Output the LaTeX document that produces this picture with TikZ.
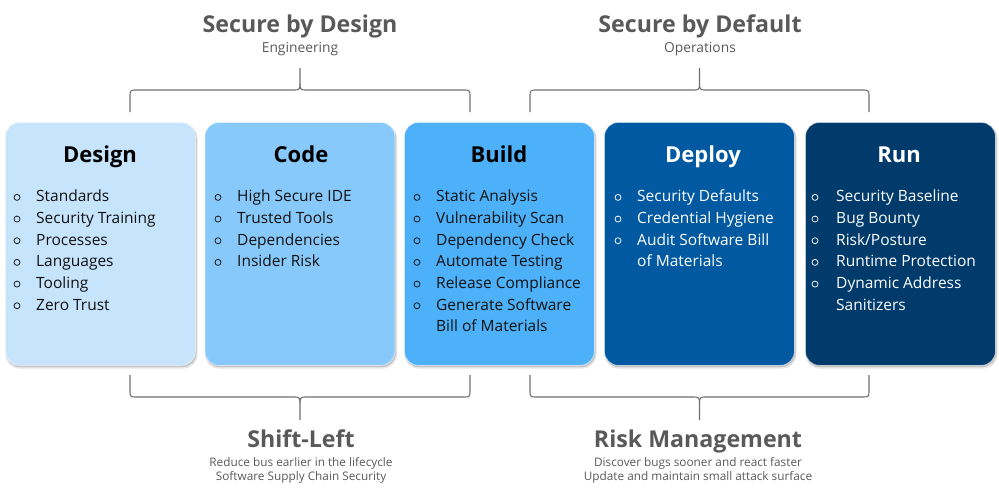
\documentclass[tikz,border=0pt]{standalone}
\usepackage{fontspec}
\setmainfont{Open Sans}
\definecolor{headgrey}{HTML}{595959}
\definecolor{bracegrey}{HTML}{6E6E6E}
\definecolor{cdesign}{HTML}{C6E4FC}
\definecolor{ccode}{HTML}{88C9FB}
\definecolor{cbuild}{HTML}{4DB1FA}
\definecolor{cdeploy}{HTML}{0059A1}
\definecolor{crun}{HTML}{003B6C}
\definecolor{darktext}{HTML}{111111}
\begin{document}
\begin{tikzpicture}[x=1pt,y=-1pt,
  boxst/.style={rounded corners=14pt, draw=white, draw opacity=0.55, line width=0.8pt,
    minimum width=190pt, minimum height=243pt, anchor=north west, inner sep=0pt},
  shadowst/.style={rounded corners=14pt, fill=black},
  ttl/.style={font=\fontsize{22}{26}\selectfont\bfseries, anchor=base, inner sep=0pt},
  itm/.style={font=\fontsize{15.5}{19}\selectfont, anchor=base west, inner sep=0pt},
  bul/.style={circle, draw, minimum size=6pt, inner sep=0pt, line width=0.75pt},
  head/.style={font=\fontsize{23.2}{27}\selectfont\bfseries, text=headgrey, anchor=base, inner sep=0pt},
  sub/.style={font=\fontsize{11.8}{14}\selectfont, text=headgrey, anchor=base, inner sep=0pt},
  topsub/.style={font=\fontsize{13.8}{16}\selectfont, text=headgrey, anchor=base, inner sep=0pt},
  brace/.style={draw=bracegrey, line width=1.1pt, line join=round},
]
\useasboundingbox (0,0) rectangle (999,491);

% shadows
\foreach \x in {5,204.5,404,604,805}{
  \fill[shadowst, fill opacity=0.10] (\x+0.5,124) rectangle (\x+192.5,368.5);
  \fill[shadowst, fill opacity=0.15] (\x+1,123.5) rectangle (\x+191.5,367);
}

% boxes
\node[boxst, fill=cdesign] (design) at (5,122) {};
\node[boxst, fill=ccode] (code) at (204.5,122) {};
\node[boxst, fill=cbuild] (build) at (404,122) {};
\node[boxst, fill=cdeploy] (deploy) at (604,122) {};
\node[boxst, fill=crun] (run) at (805,122) {};

% titles
\node[ttl, text=black] (tdesign) at (100,162) {Design};
\node[ttl, text=black] (tcode) at (301,162) {Code};
\node[ttl, text=black] (tbuild) at (499,162) {Build};
\node[ttl, text=white] (tdeploy) at (703,162) {Deploy};
\node[ttl, text=white] (trun) at (899,162) {Run};

% items
\foreach [count=\i] \t in {Standards,Security Training,Processes,Languages,Tooling,Zero Trust}{
  \node[bul, draw=darktext] (db\i) at (17,180+21.67*\i-4.3) {};
  \node[itm, text=darktext] (di\i) at (36,180+21.67*\i) {\t};
}
\foreach [count=\i] \t in {High Secure IDE,Trusted Tools,Dependencies,Insider Risk}{
  \node[bul, draw=darktext] (cb\i) at (218,180+21.67*\i-4.3) {};
  \node[itm, text=darktext] (ci\i) at (237,180+21.67*\i) {\t};
}
\foreach [count=\i] \t in {Static Analysis,Vulnerability Scan,Dependency Check,Automate Testing,Release Compliance,Generate Software}{
  \node[bul, draw=darktext] (bb\i) at (417,180+21.67*\i-4.3) {};
  \node[itm, text=darktext] (bi\i) at (436,180+21.67*\i) {\t};
}
\node[itm, text=darktext] (bi7) at (436,180+21.67*7) {Bill of Materials};
\foreach [count=\i] \t in {Security Defaults,Credential Hygiene,Audit Software Bill}{
  \node[bul, draw=white] (pb\i) at (618,180+21.67*\i-4.3) {};
  \node[itm, text=white] (pi\i) at (637,180+21.67*\i) {\t};
}
\node[itm, text=white] (pi4) at (637,180+21.67*4) {of Materials};
\foreach [count=\i] \t in {Security Baseline,Bug Bounty,Risk/Posture,Runtime Protection,Dynamic Address}{
  \node[bul, draw=white] (rb\i) at (815,180+21.67*\i-4.3) {};
  \node[itm, text=white] (ri\i) at (836,180+21.67*\i) {\t};
}
\node[itm, text=white] (ri6) at (836,180+21.67*6) {Sanitizers};

% top headings
\node[head] (sbd) at (300,32) {Secure by Design};
\node[topsub] (eng) at (300,52) {Engineering};
\node[head] (sbdef) at (700,32) {Secure by Default};
\node[topsub] (ops) at (700,52) {Operations};

% bottom headings
\node[head] (shl) at (301,447) {Shift-Left};
\node[sub] (shl1) at (301,466) {Reduce bus earlier in the lifecycle};
\node[sub] (shl2) at (301,480.5) {Software Supply Chain Security};
\node[head] (rm) at (698,447) {Risk Management};
\node[sub] (rm1) at (698,466) {Discover bugs sooner and react faster};
\node[sub] (rm2) at (698,480.5) {Update and maintain small attack surface};

% top braces
\foreach \a/\b in {130/470,530/869}{
  \pgfmathsetmacro\m{(\a+\b)/2}
  \draw[brace] (\a,112) -- (\a,95) .. controls (\a,91) and (\a+1,90) .. (\a+5,90)
    -- (\m-5,90) .. controls (\m-1,90) and (\m,89) .. (\m,84) -- (\m,68);
  \draw[brace] (\b,112) -- (\b,95) .. controls (\b,91) and (\b-1,90) .. (\b-5,90)
    -- (\m+5,90) .. controls (\m+1,90) and (\m,89) .. (\m,84);
}
% bottom braces
\foreach \a/\b in {130/470,530/869}{
  \pgfmathsetmacro\m{(\a+\b)/2}
  \draw[brace] (\a,375) -- (\a,392) .. controls (\a,396) and (\a+1,397) .. (\a+5,397)
    -- (\m-5,397) .. controls (\m-1,397) and (\m,398) .. (\m,403) -- (\m,420);
  \draw[brace] (\b,375) -- (\b,392) .. controls (\b,396) and (\b-1,397) .. (\b-5,397)
    -- (\m+5,397) .. controls (\m+1,397) and (\m,398) .. (\m,403);
}
\end{tikzpicture}
\end{document}
